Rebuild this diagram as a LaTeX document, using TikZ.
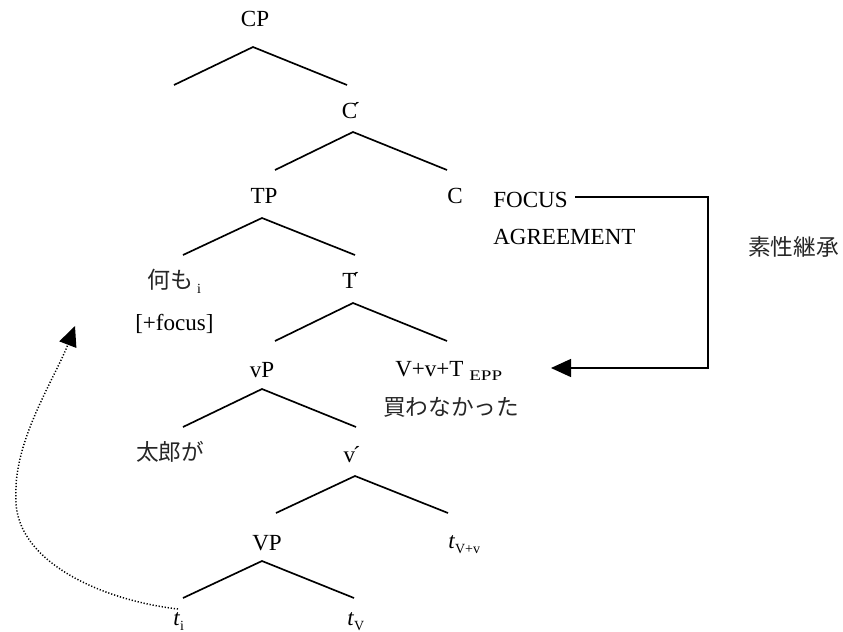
\documentclass[tikz,border=0pt]{standalone}
\usepackage{fontspec}
\setmainfont{Liberation Serif}
\newfontfamily\cjk{Noto Sans CJK JP}
\usetikzlibrary{arrows.meta}
\newcommand{\sbs}[1]{\raisebox{-0.22em}{\fontsize{10.5}{11}\selectfont #1}}
\begin{document}
\begin{tikzpicture}[x=0.75pt,y=-0.75pt,
  lbl/.style={inner sep=0pt, font=\fontsize{17.3}{20}\selectfont},
  jp/.style={inner sep=0pt, font=\fontsize{17}{20}\selectfont\cjk, text=black!85},
  branch/.style={line width=1.25pt},
  feat/.style={line width=1pt, -{Triangle[length=15pt,width=13.5pt]}},
  move/.style={line width=1.1pt, dash pattern=on 0.9pt off 1.4pt, -{Triangle[length=15pt,width=13.5pt]}}]
\useasboundingbox (0,0) rectangle (843,632);

% labels
\node[lbl, anchor=base] (CP) at (255,26) {CP};
\node[lbl, anchor=base] (Cbar) at (351,118) {C\kern-.2em´};
\node[lbl, anchor=base] (TP) at (264,203) {TP};
\node[lbl, anchor=base] (C) at (455,203) {C};
\node[lbl, anchor=base west] (focus) at (493,207) {FOCUS};
\node[lbl, anchor=base west] (agr) at (493,244) {AGREEMENT};
\node[jp, anchor=base west] (inh) at (748,255) {素性継承};
\node[lbl, anchor=base west] (nanimo) at (147,288) {{\cjk\color{black!85}何も}\,\sbs{i}};
\node[lbl, anchor=base] (Tbar) at (351,288) {T\kern-.2em´};
\node[lbl, anchor=base west] (foc) at (135,330) {[+focus]};
\node[lbl, anchor=base] (vP) at (262,377) {vP};
\node[lbl, anchor=base west] (vvt) at (395,376) {V+v+T \raisebox{-0.2em}{\scalebox{1.3}[1]{\fontsize{11}{11}\selectfont EPP}}};
\node[jp, anchor=base west] (kawa) at (383,415) {買わなかった};
\node[jp, anchor=base west] (taro) at (136,460) {太郎が};
\node[lbl, anchor=base] (vbar) at (352,462) {v\kern-.1em´};
\node[lbl, anchor=base] (VP) at (267,550) {VP};
\node[lbl, anchor=base west] (tvv) at (448,548) {\textit{t}\sbs{V+v}};
\node[lbl, anchor=base west] (ti) at (173,625) {\textit{t}\sbs{i}};
\node[lbl, anchor=base west] (tv) at (347,625) {\textit{t}\sbs{V}};

% branch points
\coordinate (cpA) at (253,47);  \coordinate (cpL) at (174,85);  \coordinate (cpR) at (347,85);
\coordinate (cbA) at (353,132); \coordinate (cbL) at (275,170); \coordinate (cbR) at (447,170);
\coordinate (tpA) at (262,218); \coordinate (tpL) at (183,255); \coordinate (tpR) at (355,255);
\coordinate (tbA) at (353,303); \coordinate (tbL) at (275,341); \coordinate (tbR) at (447,341);
\coordinate (vpA) at (262,389); \coordinate (vpL) at (183,427); \coordinate (vpR) at (356,427);
\coordinate (vbA) at (355,476); \coordinate (vbL) at (276,513); \coordinate (vbR) at (448,513);
\coordinate (VPA) at (262,561); \coordinate (VPL) at (183,598); \coordinate (VPR) at (354,598);

\draw[branch] (cpL) -- (cpA) -- (cpR);
\draw[branch] (cbL) -- (cbA) -- (cbR);
\draw[branch] (tpL) -- (tpA) -- (tpR);
\draw[branch] (tbL) -- (tbA) -- (tbR);
\draw[branch] (vpL) -- (vpA) -- (vpR);
\draw[branch] (vbL) -- (vbA) -- (vbR);
\draw[branch] (VPL) -- (VPA) -- (VPR);

% feature inheritance
\coordinate (fs) at (575,197);
\coordinate (k1) at (708,197);
\coordinate (k2) at (708,368);
\coordinate (ftip) at (551,368);
\draw[feat] (fs) -- (k1) -- (k2) -- (ftip);

% movement
\coordinate (ms) at (178,609);
\coordinate (mm) at (16,495);
\coordinate (mtip) at (75,326);
\draw[move] (ms) .. controls (100,600) and (12,560) .. (mm)
  .. controls (14,440) and (55,378) .. (mtip);
\end{tikzpicture}
\end{document}
